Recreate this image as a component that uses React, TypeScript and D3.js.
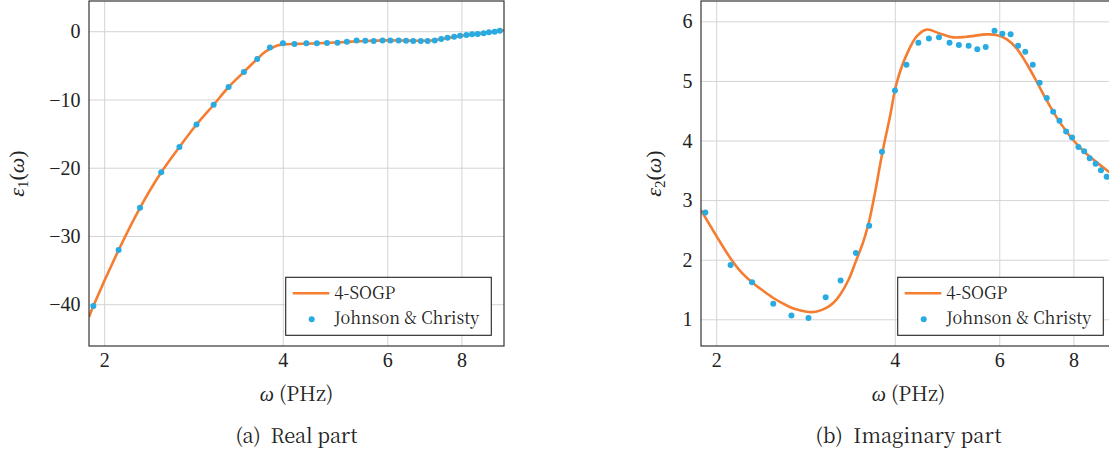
import React from "react";
import * as d3 from "d3";

// Johnson & Christy sample frequencies (PHz)
const jcOmega = [1.914, 2.111, 2.294, 2.491, 2.673, 2.856, 3.053, 3.235, 3.433, 3.615, 3.798, 3.995, 4.177, 4.375, 4.557, 4.739, 4.937, 5.119, 5.317, 5.499, 5.681, 5.879, 6.061, 6.258, 6.441, 6.623, 6.82, 7.003, 7.2, 7.382, 7.565, 7.762, 7.944, 8.142, 8.324, 8.506, 8.704, 8.886, 9.084, 9.266];
const jcEps1 = [-40.2, -32.0, -25.8, -20.6, -16.9, -13.6, -10.7, -8.1, -5.9, -4.0, -2.3, -1.7, -1.8, -1.7, -1.7, -1.66, -1.6, -1.47, -1.27, -1.32, -1.37, -1.27, -1.27, -1.27, -1.32, -1.37, -1.37, -1.37, -1.27, -1.07, -0.88, -0.73, -0.59, -0.48, -0.38, -0.34, -0.23, -0.09, 0.0, 0.15];
const jcEps2 = [2.8, 1.92, 1.63, 1.27, 1.07, 1.03, 1.38, 1.66, 2.12, 2.58, 3.82, 4.85, 5.28, 5.65, 5.72, 5.74, 5.65, 5.61, 5.6, 5.54, 5.58, 5.85, 5.8, 5.79, 5.6, 5.5, 5.28, 4.98, 4.72, 4.49, 4.34, 4.16, 4.06, 3.9, 3.83, 3.71, 3.62, 3.51, 3.4, 3.3];

// 4-SOGP fitted curves
const fitOmega1 = [1.882, 1.914, 2.111, 2.294, 2.491, 2.673, 2.856, 3.053, 3.235, 3.433, 3.615, 3.72, 3.8, 3.9, 4.0, 4.2, 4.5, 5.0, 5.5, 6.0, 6.5, 7.0, 7.3, 7.6, 8.0, 8.5, 9.0, 9.42];
const fitEps1 = [-41.8, -40.2, -32.0, -25.8, -20.6, -16.9, -13.6, -10.7, -8.1, -5.9, -4.0, -3.0, -2.5, -2.05, -1.85, -1.78, -1.72, -1.55, -1.35, -1.27, -1.3, -1.32, -1.15, -0.9, -0.6, -0.33, -0.05, 0.25];
const fitOmega2 = [1.882, 2.0, 2.111, 2.2, 2.294, 2.4, 2.488, 2.58, 2.661, 2.76, 2.856, 2.95, 3.05, 3.15, 3.233, 3.34, 3.432, 3.53, 3.613, 3.7, 3.8, 3.92, 4.02, 4.18, 4.35, 4.52, 4.74, 5.0, 5.27, 5.7, 5.92, 6.16, 6.4, 6.65, 6.92, 7.19, 7.47, 7.77, 8.07, 8.39, 8.72, 9.15, 9.42];
const fitEps2 = [2.84, 2.4, 2.03, 1.8, 1.63, 1.48, 1.37, 1.28, 1.21, 1.16, 1.13, 1.14, 1.19, 1.29, 1.43, 1.68, 1.98, 2.3, 2.65, 3.15, 3.78, 4.42, 4.97, 5.45, 5.76, 5.87, 5.81, 5.74, 5.75, 5.79, 5.78, 5.71, 5.56, 5.31, 5.0, 4.69, 4.41, 4.16, 3.96, 3.79, 3.65, 3.49, 3.4];

const xTicks = [2, 4, 6, 8];
const yTicks1 = [0, -10, -20, -30, -40];
const yTicks2 = [1, 2, 3, 4, 5, 6];
const xDomain: [number, number] = [1.882, 9.42];
const legendLabels = ["4-SOGP", "Johnson & Christy"];

const ORANGE = "#f47d31";
const BLUE = "#29abe2";
const GRID = "#d4d4d4";
const TEXT_FONT = '"Noto Serif CJK SC", "Liberation Serif"';
const MATH_FONT = '"Liberation Serif", "Times New Roman"';

type PanelProps = {
  left: number;
  yDomain: [number, number];
  yTicks: number[];
  fitX: number[];
  fitY: number[];
  dataX: number[];
  dataY: number[];
  sub: string;
  yLabelX: number;
  caption: string;
  captionWidth: number;
  tag: string;
};

function Panel(p: PanelProps) {
  const top = 1, bottom = 346, width = 415;
  const x = d3.scaleLog().domain(xDomain).range([p.left, p.left + width]);
  const y = d3.scaleLinear().domain(p.yDomain).range([bottom, top]);
  const right = p.left + width;
  const line = d3
    .line<number>()
    .x((d) => x(d))
    .y((_, i) => y(p.fitY[i]))
    .curve(d3.curveCatmullRom.alpha(0.5));
  const cx = (p.left + right) / 2;
  const cy = (top + bottom) / 2;
  const clipId = "clip" + p.tag;
  const lgX = right - 12.7 - 205.6;
  const lgY = 277.3;
  const fmt = (v: number) => (v < 0 ? "\u2212" + Math.abs(v) : String(v));
  const txt = { fontFamily: TEXT_FONT, fill: "#222" };
  const mth = { fontFamily: MATH_FONT, fill: "#222" };
  return (
    <g>
      <defs>
        <clipPath id={clipId}>
          <rect x={p.left} y={top} width={width} height={bottom - top} />
        </clipPath>
      </defs>
      {xTicks.map((t) => (
        <line key={"gx" + t} x1={x(t)} x2={x(t)} y1={top} y2={bottom} stroke={GRID} strokeWidth={1} />
      ))}
      {p.yTicks.map((t) => (
        <line key={"gy" + t} x1={p.left} x2={right} y1={y(t)} y2={y(t)} stroke={GRID} strokeWidth={1} />
      ))}
      <g clipPath={`url(#${clipId})`}>
        <path d={line(p.fitX) || ""} fill="none" stroke={ORANGE} strokeWidth={2.6} />
        {p.dataX.map((d, i) => (
          <circle key={"pt" + i} cx={x(d)} cy={y(p.dataY[i])} r={3} fill={BLUE} />
        ))}
      </g>
      <rect x={p.left} y={top} width={width} height={bottom - top} fill="none" stroke="#222" strokeWidth={1.1} />
      {xTicks.map((t) => (
        <text key={"tx" + t} x={x(t)} y={367} textAnchor="middle" fontSize={20} style={mth}>
          {t}
        </text>
      ))}
      {p.yTicks.map((t) => (
        <text key={"ty" + t} x={p.left - 8.5} y={y(t)} dy="0.33em" textAnchor="end" fontSize={20} style={mth}>
          {fmt(t)}
        </text>
      ))}
      <text
        transform={`translate(${p.yLabelX},${cy}) rotate(-90)`}
        textAnchor="middle"
        fontSize={22}
        style={mth}
      >
        <tspan fontStyle="italic">ε</tspan>
        <tspan fontSize={15} dy={4}>{p.sub}</tspan>
        <tspan dy={-4}>(</tspan>
        <tspan fontStyle="italic">ω</tspan>
        <tspan>)</tspan>
      </text>
      <text x={cx} y={401} textAnchor="middle" fontSize={20} style={txt}>
        <tspan fontStyle="italic" style={mth}>ω</tspan>
        <tspan> (PHz)</tspan>
      </text>
      <text
        x={cx - p.captionWidth / 2}
        y={443}
        fontSize={20}
        textLength={p.captionWidth}
        lengthAdjust="spacing"
        style={{ ...txt, whiteSpace: "pre" }}
      >
        {p.caption}
      </text>
      <g>
        <rect x={lgX} y={lgY} width={205.6} height={58} fill="white" stroke="#222" strokeWidth={1.1} />
        <line x1={lgX + 7} x2={lgX + 43.6} y1={lgY + 16} y2={lgY + 16} stroke={ORANGE} strokeWidth={2.6} />
        <text x={lgX + 48.6} y={lgY + 22} fontSize={17.5} textLength={61} lengthAdjust="spacingAndGlyphs" style={txt}>
          {legendLabels[0]}
        </text>
        <circle cx={lgX + 26} cy={lgY + 42} r={3} fill={BLUE} />
        <text x={lgX + 48.6} y={lgY + 46.3} fontSize={17.5} textLength={145} lengthAdjust="spacingAndGlyphs" style={txt}>
          {legendLabels[1]}
        </text>
      </g>
    </g>
  );
}

export default function App() {
  return (
    <svg
      width={1109}
      height={461}
      style={{ position: "absolute", left: 0, top: 0, background: "white", overflow: "hidden" }}
    >
      <rect x={0} y={0} width={1109} height={461} fill="white" />
      <Panel
        left={89}
        yDomain={[-46.05, 4.5]}
        yTicks={yTicks1}
        fitX={fitOmega1}
        fitY={fitEps1}
        dataX={jcOmega}
        dataY={jcEps1}
        sub="1"
        yLabelX={24}
        caption={"(a)  Real part"}
        captionWidth={122}
        tag="a"
      />
      <Panel
        left={701}
        yDomain={[0.56, 6.35]}
        yTicks={yTicks2}
        fitX={fitOmega2}
        fitY={fitEps2}
        dataX={jcOmega}
        dataY={jcEps2}
        sub="2"
        yLabelX={661}
        caption={"(b)  Imaginary part"}
        captionWidth={186}
        tag="b"
      />
    </svg>
  );
}
